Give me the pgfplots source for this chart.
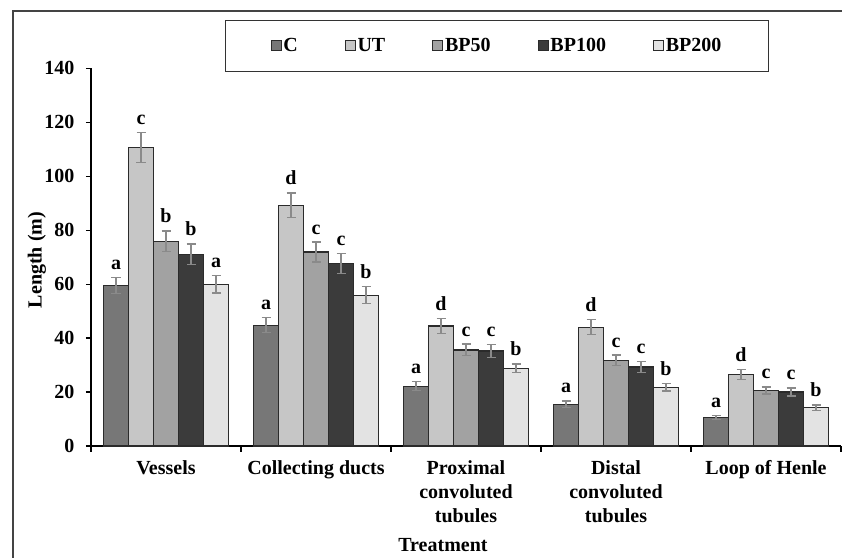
\documentclass[border=0pt]{standalone}
\usepackage{fontspec}
\setmainfont{Liberation Serif}
\usepackage{pgfplots}
\pgfplotsset{compat=1.18}
\usepackage{pgfplotstable}

\definecolor{cC}{HTML}{777777}
\definecolor{cUT}{HTML}{C6C6C6}
\definecolor{cBPa}{HTML}{A2A2A2}
\definecolor{cBPb}{HTML}{3B3B3B}
\definecolor{cBPc}{HTML}{E3E3E3}
\definecolor{barEdge}{HTML}{2B2B2B}
\definecolor{errC}{HTML}{8A8A8A}
\definecolor{frameC}{HTML}{444444}

\pgfplotstableread{
x y err lab
0 59.6 3.0 a
1 44.8 2.7 a
2 22.2 1.6 a
3 15.5 1.2 a
4 10.5 0.8 a
}\tC
\pgfplotstableread{
x y err lab
0 110.6 5.6 c
1 89.2 4.6 d
2 44.5 2.8 d
3 44.0 2.8 d
4 26.5 1.8 d
}\tUT
\pgfplotstableread{
x y err lab
0 75.9 3.8 b
1 71.9 3.7 c
2 35.6 2.2 c
3 31.8 1.9 c
4 20.6 1.3 c
}\tBPa
\pgfplotstableread{
x y err lab
0 71.1 3.8 b
1 67.6 3.7 c
2 35.2 2.3 c
3 29.3 2.0 c
4 20.0 1.5 c
}\tBPb
\pgfplotstableread{
x y err lab
0 60.0 3.3 a
1 55.9 3.1 b
2 28.8 1.6 b
3 21.8 1.4 b
4 14.2 1.0 b
}\tBPc

\newcommand{\bigbf}{\bfseries\fontsize{20bp}{24bp}\selectfont}

\pgfplotsset{
  errstyle/.style={
    error bars/.cd, y dir=both, y explicit,
    error bar style={color=errC, line width=1.2bp},
    error mark options={rotate=90, mark size=4.5bp, color=errC, line width=1.2bp}
  }
}

\begin{document}
\begin{tikzpicture}
\path[use as bounding box] (0,0) rectangle (842bp,558bp);
\draw[color=frameC, line width=1.3bp] (13bp,0) -- (13bp,547bp) -- (842bp,547bp);
\begin{axis}[
  at={(91bp,112bp)}, anchor=south west,
  scale only axis, width=750bp, height=377.7bp,
  ymin=0, ymax=140, ytick={0,20,...,140},
  xmin=-0.5, xmax=4.5,
  xtick={0,...,4},
  xticklabels={Vessels, Collecting ducts, {Proximal\\convoluted\\tubules}, {Distal\\convoluted\\tubules}, Loop of Henle},
  minor xtick={-0.5,0.5,...,4.5},
  axis lines=left, axis line style={-, line width=1.6bp, black},
  tick align=outside, major tick length=5bp, minor tick length=6bp,
  major x tick style={draw=none},
  every tick/.style={black, line width=1.2bp},
  /pgf/number format/assume math mode=true,
  tick label style={font=\bigbf},
  xticklabel style={align=center, yshift=-6bp},
  yticklabel style={xshift=-8bp},
  ylabel={Length (m)},
  ylabel style={at={(axis description cs:-0.072,0.4925)}, anchor=center, font=\bigbf},
  xlabel={Treatment},
  xlabel style={at={(axis description cs:0.4693,-0.2806)}, anchor=base, inner sep=0pt, font=\bigbf},
  ybar=0pt, bar width=25bp,
  legend image code/.code={\draw[#1, draw=barEdge, line width=0.8bp] (0bp,-5bp) rectangle (10bp,5bp);},
  legend columns=5,
  legend style={at={(axis description cs:0.17867,1.1279)}, anchor=north west,
    draw=black!80, line width=1bp, inner xsep=45bp, inner ysep=16bp, font=\bigbf,
    /tikz/every even column/.append style={column sep=45bp},
    nodes={inner sep=2bp}},
  nodes near coords, point meta=explicit symbolic,
  visualization depends on={\thisrow{err} \as \err},
  every node near coord/.append style={font=\bigbf, anchor=base, inner sep=0pt, yshift=\err*2.698bp+8bp, black},
  clip=false,
]
\addplot[fill=cC, draw=barEdge, line width=1.2bp, errstyle] table[x=x, y=y, y error=err, meta=lab] {\tC};
\addplot[fill=cUT, draw=barEdge, line width=1.2bp, errstyle] table[x=x, y=y, y error=err, meta=lab] {\tUT};
\addplot[fill=cBPa, draw=barEdge, line width=1.2bp, errstyle] table[x=x, y=y, y error=err, meta=lab] {\tBPa};
\addplot[fill=cBPb, draw=barEdge, line width=1.2bp, errstyle] table[x=x, y=y, y error=err, meta=lab] {\tBPb};
\addplot[fill=cBPc, draw=barEdge, line width=1.2bp, errstyle] table[x=x, y=y, y error=err, meta=lab] {\tBPc};
\legend{C,UT,BP50,BP100,BP200}
\end{axis}
\end{tikzpicture}
\end{document}
